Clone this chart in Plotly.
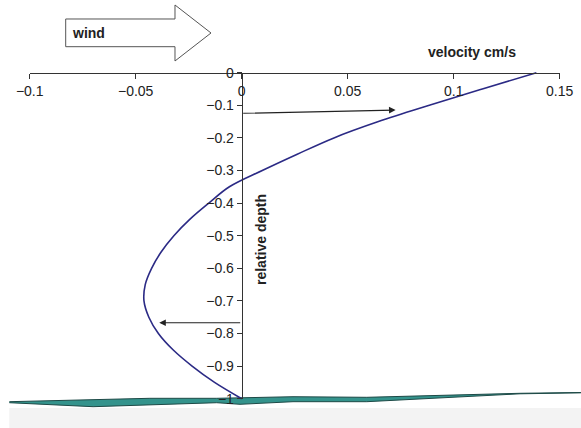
import plotly.graph_objects as go

# ---------------- data ----------------
depth = [0, -0.05, -0.10, -0.15, -0.20, -0.25, -0.30, -0.35, -0.40, -0.45, -0.50,
         -0.55, -0.60, -0.65, -0.70, -0.75, -0.80, -0.85, -0.90, -0.95, -1.0]
velocity = [0.139, 0.1135, 0.0885, 0.0645, 0.0435, 0.0262, 0.0097, -0.0058, -0.0155, -0.0245,
            -0.032, -0.038, -0.0425, -0.0455, -0.0461, -0.0438, -0.0393, -0.0324, -0.0234,
            -0.0128, 0.0]

# arrows (tail -> tip)
surface_arrow_tail = (0.0, -0.1245)
surface_arrow_tip = (0.0726, -0.1144)
deep_arrow_tail = (0.0, -0.767)
deep_arrow_tip = (-0.0389, -0.767)

# seabed band
seabed_x = [-0.1096, -0.0701, -0.0433, -0.0118, 0.0242, 0.059, 0.1313, 0.1600]
seabed_top = [-1.0092, -1.0018, -0.9988, -0.9988, -0.9939, -0.9957, -0.9834, -0.9810]
seabed_bot_x = [0.1600, 0.1313, 0.0902, 0.059, 0.0242, -0.0008, -0.0118, -0.0433, -0.0701, -0.1096]
seabed_bot = [-0.9820, -0.985, -0.9988, -1.0092, -1.0092, -1.0172, -1.0123, -1.0193, -1.0245, -1.0123]

x_ticks = [-0.1, -0.05, 0, 0.05, 0.1, 0.15]
y_ticks = [0, -0.1, -0.2, -0.3, -0.4, -0.5, -0.6, -0.7, -0.8, -0.9, -1]

# ---------------- geometry ----------------
W, H = 581, 428
X0_PX, X_SCALE = 241.7, 2120.0     # pixel of velocity 0, px per unit
Y0_PX, Y_SCALE = 72.7, 326.0       # pixel of depth 0, px per unit

full_x = [(0 - X0_PX) / X_SCALE, (W - X0_PX) / X_SCALE]
full_y = [-(H - Y0_PX) / Y_SCALE, Y0_PX / Y_SCALE]

def px_x(v):
    return (X0_PX + v * X_SCALE) / W

def px_y(d):
    return 1 - (Y0_PX - d * Y_SCALE) / H

FONT = "Liberation Sans, Arial, sans-serif"

fig = go.Figure()

# seabed
fig.add_trace(go.Scatter(
    x=seabed_x + seabed_bot_x, y=seabed_top + seabed_bot,
    mode="lines", fill="toself", fillcolor="#34938c",
    line=dict(color="#1e4a47", width=1), hoverinfo="skip", showlegend=False))

# velocity profile
fig.add_trace(go.Scatter(
    x=velocity, y=depth, mode="lines",
    line=dict(color="#2b2a85", width=1.6, shape="spline", smoothing=1.0),
    showlegend=False))

# dummy trace for visible axes
fig.add_trace(go.Scatter(x=[None], y=[None], xaxis="x2", yaxis="y2", showlegend=False))

fig.update_layout(
    width=W, height=H, autosize=False,
    margin=dict(l=0, r=0, t=0, b=0, pad=0, autoexpand=False),
    paper_bgcolor="white", plot_bgcolor="rgba(0,0,0,0)",
    font=dict(family=FONT, size=14, color="#222"),
    xaxis=dict(domain=[0, 1], range=full_x, visible=False, automargin=False),
    yaxis=dict(domain=[0, 1], range=full_y, visible=False, automargin=False),
    xaxis2=dict(domain=[px_x(-0.1), px_x(0.15)], range=[-0.1, 0.15],
                anchor="free", position=px_y(0), tickvals=x_ticks,
                showline=True, linecolor="#333", linewidth=1,
                ticks="outside", ticklen=5, tickcolor="#333",
                showgrid=False, zeroline=False, automargin=False,
                tickfont=dict(size=14, color="#222")),
    yaxis2=dict(domain=[px_y(-1), px_y(0)], range=[-1, 0],
                anchor="free", position=px_x(0), tickvals=y_ticks,
                showline=True, linecolor="#333", linewidth=1,
                ticks="outside", ticklen=5, tickcolor="#333",
                showgrid=False, zeroline=False, automargin=False,
                tickfont=dict(size=14, color="#222")),
)

# light grey band at the bottom
fig.add_shape(type="rect", xref="paper", yref="paper",
              x0=9.3 / W, x1=1, y0=0, y1=1 - 408 / H,
              fillcolor="#f3f3f3", line=dict(width=0), layer="below")

# wind block arrow (pixel geometry)
pts = [(65.7, 19), (175, 19), (175, 5), (211, 33), (175, 61), (175, 46.7), (65.7, 46.7)]
path = "M " + " L ".join(f"{x / W:.5f},{1 - y / H:.5f}" for x, y in pts) + " Z"
fig.add_shape(type="path", xref="paper", yref="paper", path=path,
              fillcolor="white", line=dict(color="#555", width=1))
fig.add_annotation(xref="paper", yref="paper", x=70 / W, y=1 - 33 / H,
                   text="<b>wind</b>", showarrow=False, xanchor="left", yanchor="middle",
                   font=dict(size=14, color="#222"))

# axis titles
fig.add_annotation(xref="paper", yref="paper", x=471.5 / W, y=1 - 52 / H,
                   text="<b>velocity cm/s</b>", showarrow=False,
                   xanchor="center", yanchor="middle",
                   font=dict(size=14, color="#222"))
fig.add_annotation(xref="paper", yref="paper", x=261 / W, y=1 - 240 / H,
                   text="<b>relative depth</b>", showarrow=False, textangle=-90,
                   xanchor="center", yanchor="middle",
                   font=dict(size=14, color="#222"))

# velocity arrows
for tail, tip in [(surface_arrow_tail, surface_arrow_tip), (deep_arrow_tail, deep_arrow_tip)]:
    fig.add_annotation(x=tip[0], y=tip[1], ax=tail[0], ay=tail[1],
                       xref="x", yref="y", axref="x", ayref="y",
                       text="", showarrow=True, arrowhead=2, arrowsize=1.1,
                       arrowwidth=1.2, arrowcolor="#222", standoff=0)

fig.write_html("out.html")
